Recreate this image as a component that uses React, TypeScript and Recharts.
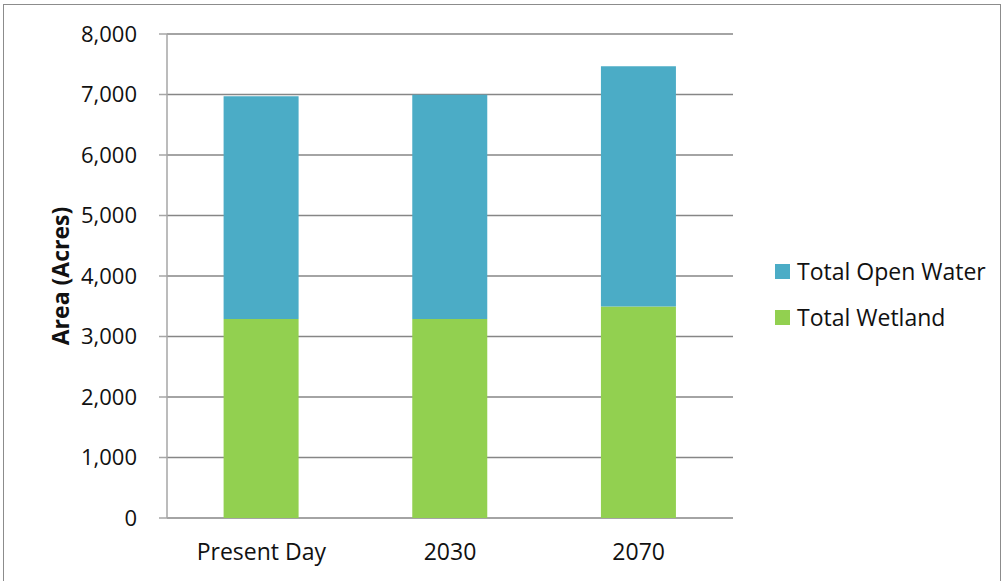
import React from 'react';
import { BarChart, Bar, XAxis, YAxis, CartesianGrid, Label } from 'recharts';

// Scenario categories and stacked areas (acres)
const categories = ['Present Day', '2030', '2070'];
const totalWetland = [3290, 3290, 3495];
const totalOpenWater = [3680, 3705, 3970];
const yTicks = [0, 1000, 2000, 3000, 4000, 5000, 6000, 7000, 8000];
const categoryEdges = [0, 1, 2, 3];

const series = [
  { key: 'wetland', name: 'Total Wetland', color: '#92D050', values: totalWetland },
  { key: 'openWater', name: 'Total Open Water', color: '#4BACC6', values: totalOpenWater },
];

const data = categories.map((c, i) => {
  const row: Record<string, string | number> = { category: c };
  series.forEach((s) => {
    row[s.key] = s.values[i];
  });
  return row;
});

const FONT = '"Open Sans", "Noto Sans", sans-serif';
const TEXT = '#111';

export default function App() {
  return (
    <div
      style={{
        position: 'fixed',
        left: 0,
        top: 0,
        width: 1004,
        height: 581,
        overflow: 'hidden',
        background: '#fff',
        fontFamily: FONT,
      }}
    >
      <div
        style={{
          position: 'absolute',
          left: 3,
          top: 4,
          width: 998,
          height: 700,
          boxSizing: 'border-box',
          border: '1px solid #8c8c8c',
        }}
      />
      <BarChart
        width={1004}
        height={581}
        data={data}
        margin={{ top: 34, right: 271, bottom: 23, left: 67 }}
        barCategoryGap="30%"
        style={{ position: 'absolute', left: 0, top: 0 }}
      >
        <CartesianGrid vertical={false} stroke="#868686" strokeWidth={1.5} />
        <XAxis
          xAxisId="edges"
          type="number"
          domain={[0, 3]}
          ticks={categoryEdges}
          tick={false}
          tickSize={7}
          height={0}
          stroke="#868686"
          strokeWidth={1.5}
        />
        <XAxis
          dataKey="category"
          height={40}
          axisLine={false}
          tickLine={false}
          tickSize={7}
          tickMargin={19}
          tick={{ fill: TEXT, fontSize: 23, fontFamily: FONT }}
        />
        <YAxis
          width={100}
          domain={[0, 8000]}
          ticks={yTicks}
          interval={0}
          tickSize={8}
          tickMargin={22}
          stroke="#a6a6a6"
          strokeWidth={1.5}
          tickFormatter={(v: number) => v.toLocaleString('en-US')}
          tick={{ fill: TEXT, fontSize: 22, fontFamily: FONT }}
        >
          <Label
            content={(props: any) => {
              const vb = props.viewBox || {};
              const cx = vb.x - 7;
              const cy = vb.y + vb.height / 2;
              return (
                <text
                  x={cx}
                  y={cy}
                  transform={`rotate(-90 ${cx} ${cy})`}
                  textAnchor="middle"
                  dominantBaseline="central"
                  fontFamily={FONT}
                  fontSize={23}
                  fontWeight="bold"
                  fill={TEXT}
                >
                  Area (Acres)
                </text>
              );
            }}
          />
        </YAxis>
        {series.map((s) => (
          <Bar
            key={s.key}
            dataKey={s.key}
            name={s.name}
            stackId="area"
            fill={s.color}
            isAnimationActive={false}
          />
        ))}
      </BarChart>
      <div style={{ position: 'absolute', left: 775, top: 256 }}>
        {[...series].reverse().map((s) => (
          <div
            key={s.key}
            style={{ display: 'flex', alignItems: 'center', height: 30, marginBottom: 16 }}
          >
            <span
              style={{ width: 15, height: 15, background: s.color, display: 'inline-block', marginRight: 7 }}
            />
            <span style={{ fontSize: 23, color: TEXT, whiteSpace: 'nowrap' }}>{s.name}</span>
          </div>
        ))}
      </div>
    </div>
  );
}
